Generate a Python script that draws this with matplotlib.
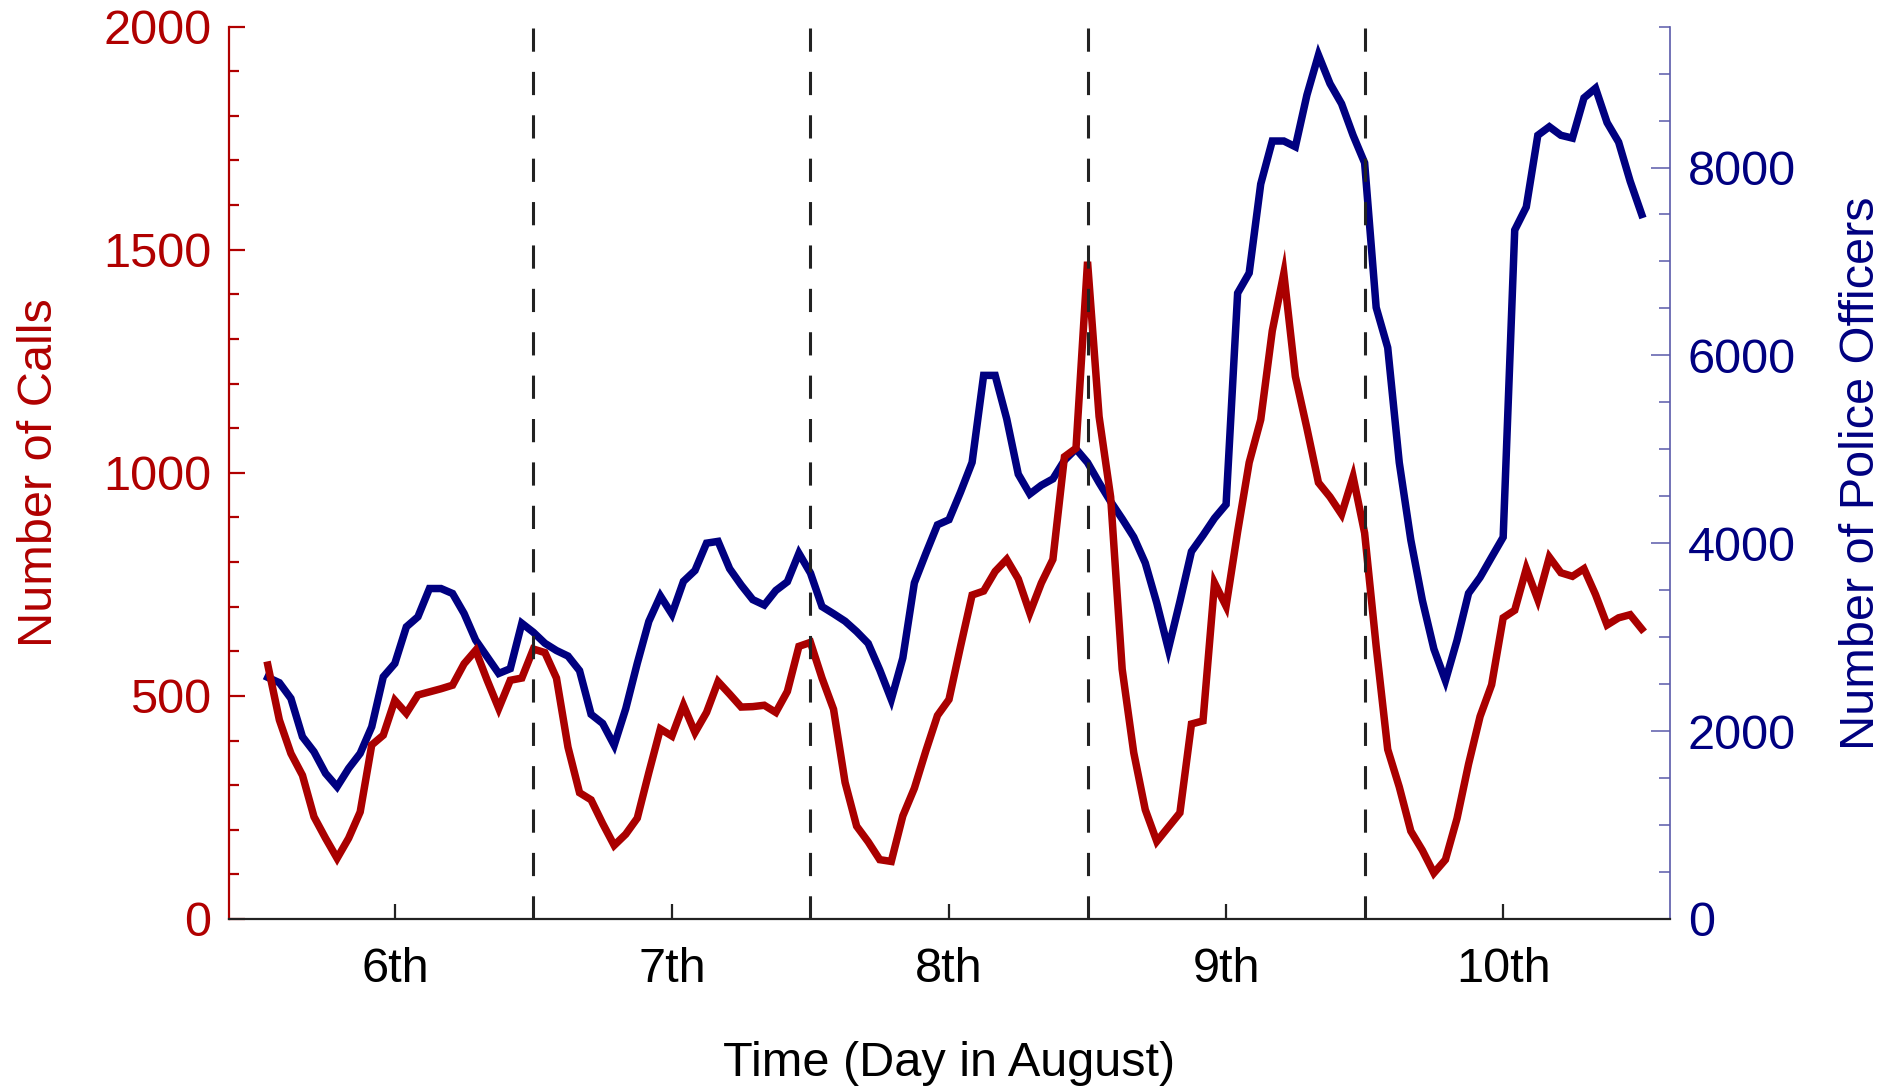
import matplotlib
matplotlib.use('Agg')
import matplotlib.pyplot as plt
from matplotlib.ticker import MultipleLocator
import numpy as np

plt.rcParams['font.family'] = ['Liberation Sans', 'DejaVu Sans']

# hourly samples, first sample at 13:00 on 5 August
start_day = 5
start_hour = 13

calls = [569, 446, 371, 322, 229, 181, 136, 181, 240, 390, 412, 490, 461, 502, 509, 516,
         524, 572, 602, 535, 472, 535, 540, 605, 597, 540, 385, 283, 267, 214, 165, 190,
         226, 328, 426, 410, 479, 418, 463, 532, 504, 475, 476, 479, 463, 510, 611, 620,
         540, 470, 306, 208, 173, 133, 129, 231, 293, 377, 456, 492, 611, 726, 735, 779,
         806, 762, 686, 753, 806, 1036, 1055, 1473, 1126, 946, 560, 373, 245, 174, 206, 238,
         437, 444, 753, 701, 868, 1023, 1119, 1318, 1447, 1216, 1100, 978, 946, 907, 991, 865,
         611, 380, 296, 197, 154, 103, 133, 225, 347, 454, 525, 675, 692, 785, 716, 811,
         776, 768, 785, 727, 659, 675, 682, 650]

officers = [2572, 2515, 2348, 1940, 1780, 1550, 1408, 1603, 1763, 2046, 2578, 2720, 3110, 3217, 3518, 3518,
            3465, 3252, 2969, 2791, 2614, 2665, 3148, 3052, 2935, 2858, 2799, 2644, 2179, 2082, 1850, 2238,
            2722, 3168, 3439, 3245, 3594, 3710, 4001, 4020, 3729, 3555, 3400, 3342, 3497, 3590, 3893, 3683,
            3326, 3250, 3170, 3060, 2934, 2652, 2337, 2778, 3578, 3893, 4196, 4251, 4545, 4861, 5787, 5787,
            5324, 4735, 4524, 4617, 4685, 4883, 5004, 4859, 4645, 4444, 4260, 4066, 3790, 3362, 2874, 3380,
            3912, 4084, 4267, 4413, 6663, 6877, 7824, 8282, 8282, 8221, 8771, 9198, 8893, 8679, 8343, 8050,
            6510, 6082, 4859, 4035, 3393, 2874, 2538, 2965, 3467, 3637, 3852, 4064, 7334, 7579, 8343, 8434,
            8343, 8313, 8741, 8844, 8478, 8270, 7854, 7500]

day_ticks = [6, 7, 8, 9, 10]
day_labels = ['6th', '7th', '8th', '9th', '10th']
day_boundaries = [6.5, 7.5, 8.5, 9.5]

calls_ticks = [0, 500, 1000, 1500, 2000]
officer_ticks = [0, 2000, 4000, 6000, 8000]

RED_LINE = '#AA0000'
RED_TEXT = '#B00000'
BLUE_LINE = '#000080'
BLUE_SPINE = '#5A5AAA'

hours = np.arange(len(calls)) + start_hour
x = start_day + hours / 24.0

W, H = 1893, 1086
fig = plt.figure(figsize=(W / 100, H / 100), dpi=100)
left, right, top, bottom = 229.4, 1669.7, 26.6, 919.0
ax1 = fig.add_axes([left / W, 1 - bottom / H, (right - left) / W, (bottom - top) / H])
ax2 = ax1.twinx()
ax1.set_zorder(ax2.get_zorder() + 1)
ax1.patch.set_visible(False)

ax2.plot(x, officers, color=BLUE_LINE, lw=5.4, solid_joinstyle='miter', zorder=2)
ax1.plot(x, calls, color=RED_LINE, lw=5.4, solid_joinstyle='miter', zorder=2)
for d in day_boundaries:
    ax1.axvline(d, color='#222222', lw=2.2, dashes=(7.6, 6.6), zorder=5)

ax1.set_xlim(5.403, 10.601)
ax1.set_ylim(0, 2000)
ax2.set_ylim(0, 9500)

for a in (ax1, ax2):
    a.spines['top'].set_visible(False)
ax1.spines['right'].set_visible(False)
ax2.spines['left'].set_visible(False)
ax2.spines['bottom'].set_visible(False)
ax1.spines['left'].set_color(RED_TEXT)
ax1.spines['left'].set_linewidth(1.6)
ax1.spines['bottom'].set_color('#222222')
ax1.spines['bottom'].set_linewidth(1.6)
ax2.spines['right'].set_color(BLUE_SPINE)
ax2.spines['right'].set_linewidth(1.2)

ax1.set_xticks(day_ticks, day_labels)
ax1.tick_params(axis='x', direction='in', length=10.5, width=1.6, color='#222222',
                labelsize=35, labelcolor='black', pad=20)

ax1.set_yticks(calls_ticks, [str(v) for v in calls_ticks])
ax1.yaxis.set_minor_locator(MultipleLocator(100))
ax1.tick_params(axis='y', which='major', direction='in', length=11.5, width=1.6,
                color=RED_TEXT, labelsize=35, labelcolor=RED_TEXT, pad=13)
ax1.tick_params(axis='y', which='minor', direction='in', length=7.2, width=1.6, color=RED_TEXT)

ax2.set_yticks(officer_ticks, [str(v) for v in officer_ticks])
ax2.yaxis.set_minor_locator(MultipleLocator(500))
ax2.tick_params(axis='y', which='major', direction='in', length=13.5, width=1.1,
                color=BLUE_SPINE, labelsize=35, labelcolor=BLUE_LINE, pad=13)
ax2.tick_params(axis='y', which='minor', direction='in', length=8, width=1.1, color=BLUE_SPINE)

fig.text(40 / W, 1 - 473 / H, 'Number of Calls', rotation=90, ha='center', va='center',
         fontsize=35, color=RED_TEXT)
fig.text(1862 / W, 1 - 473 / H, 'Number of Police Officers', rotation=90, ha='center',
         va='center', fontsize=35, color=BLUE_LINE)
fig.text(949.5 / W, 1 - 1063 / H, 'Time (Day in August)', ha='center', va='center',
         fontsize=35, color='black')

fig.savefig('out.png', dpi=100)
